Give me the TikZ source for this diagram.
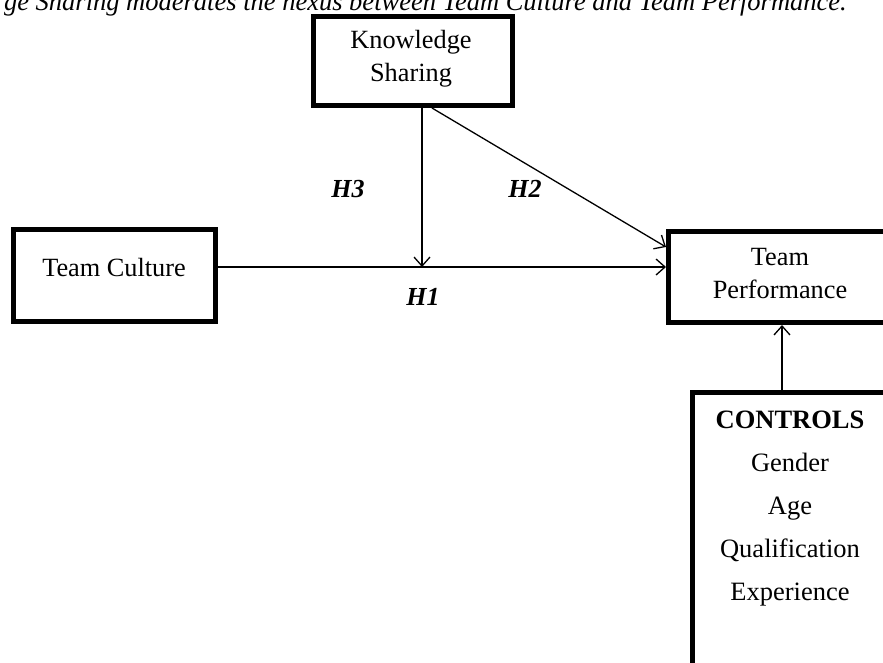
\documentclass[tikz,border=0pt]{standalone}
\usepackage{fontspec}
\setmainfont{Liberation Serif}
\usetikzlibrary{arrows.meta}
\begin{document}
\begin{tikzpicture}[x=1pt,y=-1pt,
  box/.style={draw, line width=5pt, inner sep=0pt},
  conn/.style={line width=1.3pt, -{Straight Barb[length=9pt,width=16pt,line width=1.3pt]}},
  lbl/.style={font=\fontsize{26}{30}\selectfont\bfseries\itshape, inner sep=0pt},
  txt/.style={font=\fontsize{26.3}{33}\selectfont, align=center, inner sep=0pt},
  captext/.style={font=\fontsize{26.5}{30}\selectfont\itshape, inner sep=0pt, anchor=base east}]
\useasboundingbox (0,0) rectangle (883,662);
\clip (0,0) rectangle (883,662);
% caption (cut off at the top and left)
\node[captext] (captn) at (847,10) {ge Sharing moderates the nexus between Team Culture and Team Performance.};
% boxes
\node[box, minimum width=199pt, minimum height=89pt] (ks) at (413,61) {};
\node[txt] (kst) at (411,58.5) {Knowledge\\Sharing};
\node[box, minimum width=202pt, minimum height=92pt] (tc) at (114.5,275.5) {};
\node[txt] (tct) at (114,267) {Team Culture};
\node[box, minimum width=228pt, minimum height=91pt] (tp) at (782.5,277) {};
\node[txt] (tpt) at (780,273.5) {Team\\Performance};
\node[box, minimum width=196pt, minimum height=320pt] (ct) at (790.5,552.5) {};
\node[txt, font=\fontsize{26.5}{43}\selectfont] (ctt) at (790,509) {\textbf{CONTROLS}\\Gender\\Age\\Qualification\\Experience};
% connectors
\coordinate (j) at (422,267);
\draw[conn] (tc.east |- j) -- (tp.west |- j);
\draw[conn] (ks.south -| j) -- (j);
\draw[conn] (ks.south -| 432,0) -- (tp.west |- 0,247);
\draw[conn] (ct.north -| 782,0) -- (tp.south -| 782,0);
% labels
\node[lbl] (h3) at (348,189) {H3};
\node[lbl] (h2) at (525,189) {H2};
\node[lbl] (h1) at (423,297) {H1};
\end{tikzpicture}
\end{document}
